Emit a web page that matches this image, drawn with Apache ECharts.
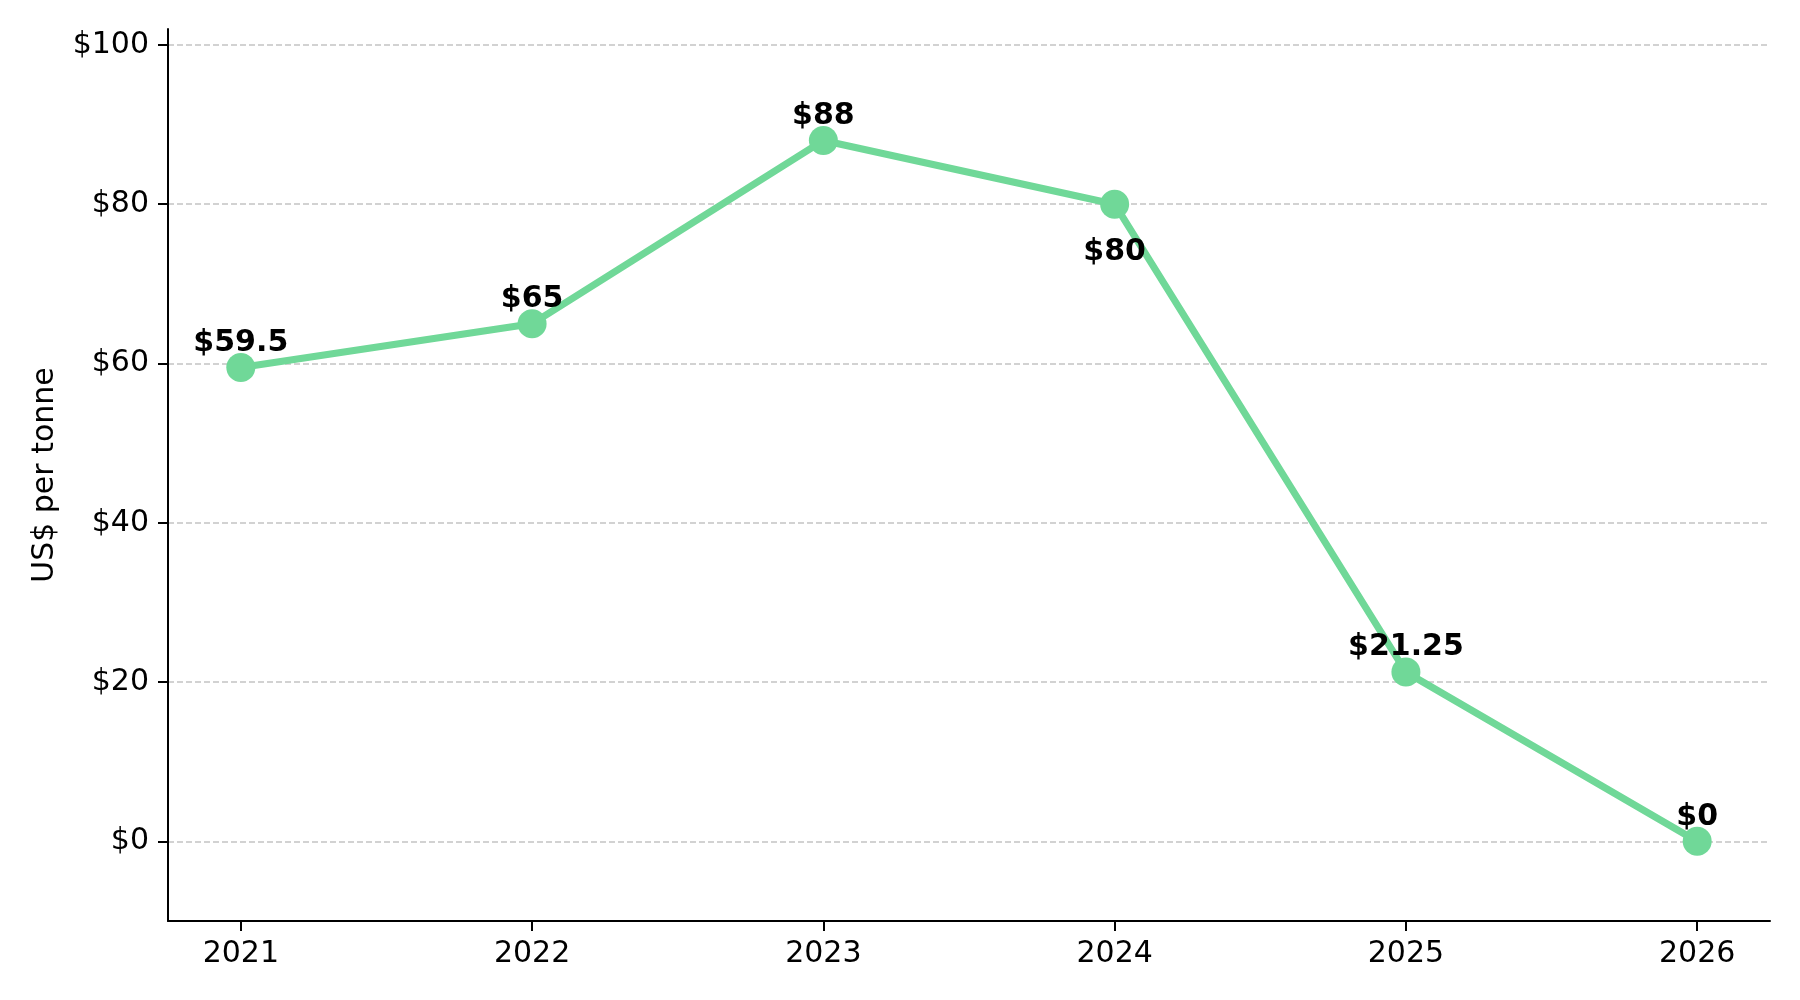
<!DOCTYPE html>
<html>
<head>
<meta charset="utf-8">
<script src="https://cdn.jsdelivr.net/npm/echarts@6/dist/echarts.min.js"></script>
<style>
  html, body { margin: 0; padding: 0; background: #fff; }
  #priceChart { width: 1800px; height: 1000px; }
</style>
</head>
<body>
<div id="priceChart"></div>
<script>
// values
var years = [2021, 2022, 2023, 2024, 2025, 2026];
var prices = [59.5, 65, 88, 80, 21.25, 0];
var yTicks = [0, 20, 40, 60, 80, 100];
// label under the point for 2024, above for the rest
var labelBelow = [false, false, false, true, false, false];

var lineColor = '#70d898';
var font = 'DejaVu Sans';

var seriesData = [];
for (var i = 0; i < years.length; i++) {
	var item = { value: [years[i], prices[i]] };
	if (labelBelow[i]) {
		item.label = { position: 'bottom', distance: 18 };
	}
	seriesData.push(item);
}

var chart = echarts.init(document.getElementById('priceChart'));
var option = {
	animation: false,
	backgroundColor: '#fff',
	grid: {
		left: 168,
		right: 30,
		top: 29,
		bottom: 79,
		outerBoundsMode: 'none'
	},
	xAxis: {
		type: 'value',
		min: 2020.75,
		max: 2026.25,
		axisLine: {
			onZero: false,
			lineStyle: { color: '#000', width: 2 }
		},
		axisTick: {
			customValues: years,
			length: 10,
			lineStyle: { color: '#000', width: 2 }
		},
		axisLabel: {
			customValues: years,
			margin: 18,
			color: '#000',
			fontFamily: font,
			fontSize: 30,
			formatter: function (v) { return String(v); }
		},
		splitLine: { show: false }
	},
	yAxis: {
		type: 'value',
		min: -10,
		max: 102,
		name: 'US$ per tonne',
		nameLocation: 'middle',
		nameGap: 108,
		nameTextStyle: {
			color: '#000',
			fontFamily: font,
			fontSize: 30
		},
		axisLine: {
			show: true,
			onZero: false,
			lineStyle: { color: '#000', width: 2 }
		},
		axisTick: {
			show: true,
			customValues: yTicks,
			length: 10,
			lineStyle: { color: '#000', width: 2 }
		},
		axisLabel: {
			customValues: yTicks,
			margin: 19,
			padding: [5, 0, 0, 0],
			color: '#000',
			fontFamily: font,
			fontSize: 30,
			formatter: function (v) { return '$' + v; }
		},
		splitLine: {
			show: true,
			lineStyle: { color: '#c4c4c4', width: 1.5, type: [6, 3] }
		}
	},
	series: [
		{
			type: 'line',
			data: seriesData,
			symbol: 'circle',
			symbolSize: 29,
			lineStyle: { color: lineColor, width: 7 },
			itemStyle: { color: lineColor },
			label: {
				show: true,
				position: 'top',
				distance: -5,
				color: '#000',
				fontFamily: font,
				fontWeight: 'bold',
				fontSize: 30,
				formatter: function (p) { return '$' + p.value[1]; }
			}
		}
	]
};
chart.setOption(option);
</script>
</body>
</html>
